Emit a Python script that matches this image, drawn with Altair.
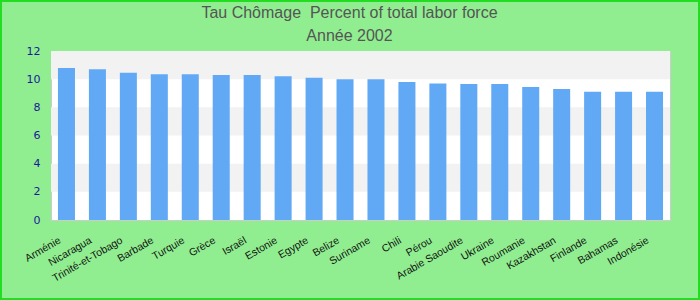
import altair as alt
import pandas as pd

countries = ["Arménie", "Nicaragua", "Trinité-et-Tobago", "Barbade", "Turquie", "Grèce",
             "Israël", "Estonie", "Egypte", "Belize", "Suriname", "Chili", "Pérou",
             "Arabie Saoudite", "Ukraine", "Roumanie", "Kazakhstan", "Finlande",
             "Bahamas", "Indonésie"]
values = [10.8, 10.7, 10.45, 10.35, 10.35, 10.3, 10.3, 10.2, 10.1, 10.0, 10.0,
          9.8, 9.7, 9.65, 9.65, 9.45, 9.3, 9.1, 9.1, 9.1]
band_start = [2, 6, 10]
band_end = [4, 8, 12]
y_ticks = [0, 2, 4, 6, 8, 10, 12]
title_lines = ["Tau Chômage\u00a0 Percent of total labor force", "Année 2002"]

df = pd.DataFrame({"pays": countries, "valeur": values})
bands = pd.DataFrame({"y0": band_start, "y1": band_end})

W, H = 619, 169
ysc = alt.Scale(domain=[0, 12], nice=False)
yaxis = alt.Axis(values=y_ticks, labelColor="#1a1a99", labelFont="DejaVu Sans",
                 labelFontSize=11, ticks=False, domain=False, grid=False,
                 labelPadding=11)

band_layer = alt.Chart(bands).mark_rect(color="#f2f2f2").encode(
    y=alt.Y("y0:Q", scale=ysc, axis=yaxis, title=None),
    y2="y1:Q",
)

bars = alt.Chart(df).mark_bar(color="#62a9f5").encode(
    x=alt.X("pays:N", sort=None, title=None,
            scale=alt.Scale(paddingInner=0.45, paddingOuter=0.225),
            axis=alt.Axis(labelAngle=-30, labelFont="Liberation Sans", labelFontSize=10.5,
                          labelColor="#111111", ticks=False, domain=False,
                          labelPadding=15, labelOffset=-9)),
    y=alt.Y("valeur:Q", scale=ysc, title=None, axis=yaxis),
)

border = alt.Chart(pd.DataFrame({"a": [0]})).mark_rect(
    fill=None, stroke="#22dd22", strokeWidth=2, clip=False
).encode(
    x=alt.value(-50), x2=alt.value(W + 29),
    y=alt.value(-50), y2=alt.value(H + 79),
)

t1 = alt.Chart(pd.DataFrame({"t": [title_lines[0]]})).mark_text(
    font="Liberation Sans", fontSize=16, color="#555555", align="center",
    baseline="middle", clip=False
).encode(text="t:N", x=alt.value(W / 2 - 11), y=alt.value(-38))

t2 = alt.Chart(pd.DataFrame({"t": [title_lines[1]]})).mark_text(
    font="Liberation Sans", fontSize=16, color="#555555", align="center",
    baseline="middle", clip=False
).encode(text="t:N", x=alt.value(W / 2 - 11), y=alt.value(-15))

chart = alt.layer(band_layer, bars, border, t1, t2).properties(
    width=W, height=H,
    background="#90EE90",
    padding={"left": 51, "top": 51, "right": 30, "bottom": 80},
    autosize=alt.AutoSizeParams(type="none"),
).configure_view(fill="white", stroke="#cccccc", strokeWidth=1)

chart.save("out.html", embed_options={"renderer": "svg", "actions": False})
